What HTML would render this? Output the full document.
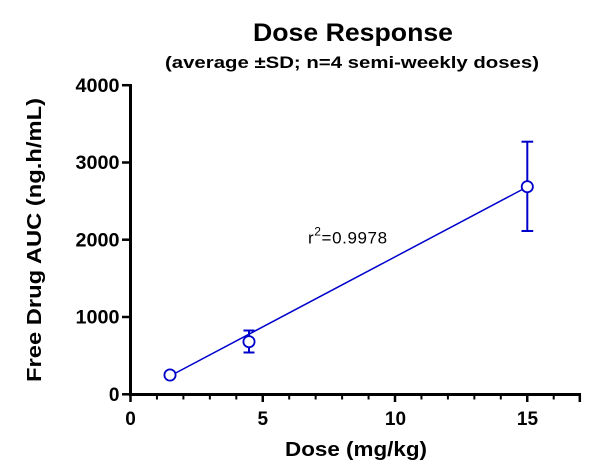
<!DOCTYPE html>
<html>
<head>
<meta charset="utf-8">
<style>
  html, body { margin:0; padding:0; background:#fff; }
  svg { display:block; }
  text { font-family: "Liberation Sans", Arial, sans-serif; }
</style>
</head>
<body>
<svg width="615" height="475" viewBox="0 0 615 475" xmlns="http://www.w3.org/2000/svg">
  <rect width="615" height="475" fill="#fff"/>

  <!-- Titles -->
  <text x="253" y="41" font-size="25" font-weight="bold" fill="#000" textLength="200" lengthAdjust="spacingAndGlyphs">Dose Response</text>
  <text x="165" y="68" font-size="17" font-weight="bold" fill="#000" textLength="374" lengthAdjust="spacingAndGlyphs">(average ±SD; n=4 semi-weekly doses)</text>

  <!-- Y axis -->
  <line x1="130.5" y1="84" x2="130.5" y2="396" stroke="#000" stroke-width="3"/>
  <g stroke="#000" stroke-width="2.5">
    <line x1="122" y1="394.3" x2="130" y2="394.3"/>
    <line x1="122" y1="317" x2="130" y2="317"/>
    <line x1="122" y1="239.7" x2="130" y2="239.7"/>
    <line x1="122" y1="162.5" x2="130" y2="162.5"/>
    <line x1="122" y1="85.2" x2="130" y2="85.2"/>
  </g>
  <g font-size="19" font-weight="bold" fill="#000" text-anchor="end">
    <text x="119.5" y="401">0</text>
    <text x="119.5" y="323.7" textLength="44" lengthAdjust="spacingAndGlyphs">1000</text>
    <text x="119.5" y="246.4" textLength="44" lengthAdjust="spacingAndGlyphs">2000</text>
    <text x="119.5" y="169.2" textLength="44" lengthAdjust="spacingAndGlyphs">3000</text>
    <text x="119.5" y="91.9" textLength="44" lengthAdjust="spacingAndGlyphs">4000</text>
  </g>

  <!-- X axis -->
  <line x1="129" y1="394.5" x2="581" y2="394.5" stroke="#000" stroke-width="3"/>
  <g stroke="#000" stroke-width="2.5">
    <line x1="130.5" y1="394" x2="130.5" y2="402"/>
    <line x1="262.75" y1="394" x2="262.75" y2="402"/>
    <line x1="395" y1="394" x2="395" y2="402"/>
    <line x1="527.25" y1="394" x2="527.25" y2="402"/>
    <line x1="579.8" y1="394" x2="579.8" y2="402"/>
  </g>
  <g stroke="#000" stroke-width="2">
    <line x1="156.95" y1="394" x2="156.95" y2="399.5"/>
    <line x1="183.4" y1="394" x2="183.4" y2="399.5"/>
    <line x1="209.85" y1="394" x2="209.85" y2="399.5"/>
    <line x1="236.3" y1="394" x2="236.3" y2="399.5"/>
    <line x1="289.2" y1="394" x2="289.2" y2="399.5"/>
    <line x1="315.65" y1="394" x2="315.65" y2="399.5"/>
    <line x1="342.1" y1="394" x2="342.1" y2="399.5"/>
    <line x1="368.55" y1="394" x2="368.55" y2="399.5"/>
    <line x1="421.45" y1="394" x2="421.45" y2="399.5"/>
    <line x1="447.9" y1="394" x2="447.9" y2="399.5"/>
    <line x1="474.35" y1="394" x2="474.35" y2="399.5"/>
    <line x1="500.8" y1="394" x2="500.8" y2="399.5"/>
    <line x1="553.7" y1="394" x2="553.7" y2="399.5"/>
  </g>
  <g font-size="19" font-weight="bold" fill="#000" text-anchor="middle">
    <text x="130.5" y="425">0</text>
    <text x="262.75" y="425">5</text>
    <text x="395.5" y="425">10</text>
    <text x="527.5" y="425">15</text>
  </g>

  <!-- Axis labels -->
  <text x="285" y="456" font-size="20" font-weight="bold" fill="#000" textLength="142" lengthAdjust="spacingAndGlyphs">Dose (mg/kg)</text>
  <text transform="translate(41,240) rotate(-90)" x="0" y="0" text-anchor="middle" font-size="20" font-weight="bold" fill="#000" textLength="284" lengthAdjust="spacingAndGlyphs">Free Drug AUC (ng.h/mL)</text>

  <!-- Regression line -->
  <line x1="170" y1="376" x2="527" y2="187" stroke="#0000cc" stroke-width="1.5"/>

  <!-- Error bars -->
  <g stroke="#0000cc" stroke-width="2" fill="none">
    <line x1="249" y1="330.5" x2="249" y2="352.5"/>
    <line x1="243.5" y1="330.5" x2="254.5" y2="330.5"/>
    <line x1="243.5" y1="352.5" x2="254.5" y2="352.5"/>

    <line x1="527.3" y1="141.7" x2="527.3" y2="231"/>
    <line x1="521.5" y1="141.7" x2="533.2" y2="141.7"/>
    <line x1="521.5" y1="231" x2="533.2" y2="231"/>
  </g>

  <!-- Points -->
  <g stroke="#0000cc" stroke-width="1.8" fill="#fff">
    <circle cx="170" cy="375" r="5.6"/>
    <circle cx="249" cy="341.7" r="5.6"/>
    <circle cx="527.3" cy="186.7" r="5.6"/>
  </g>

  <!-- r^2 annotation -->
  <text x="308" y="243.3" font-size="17" fill="#000" letter-spacing="0.6">r<tspan font-size="12" dy="-8">2</tspan><tspan dy="8">=0.9978</tspan></text>
</svg>
</body>
</html>
